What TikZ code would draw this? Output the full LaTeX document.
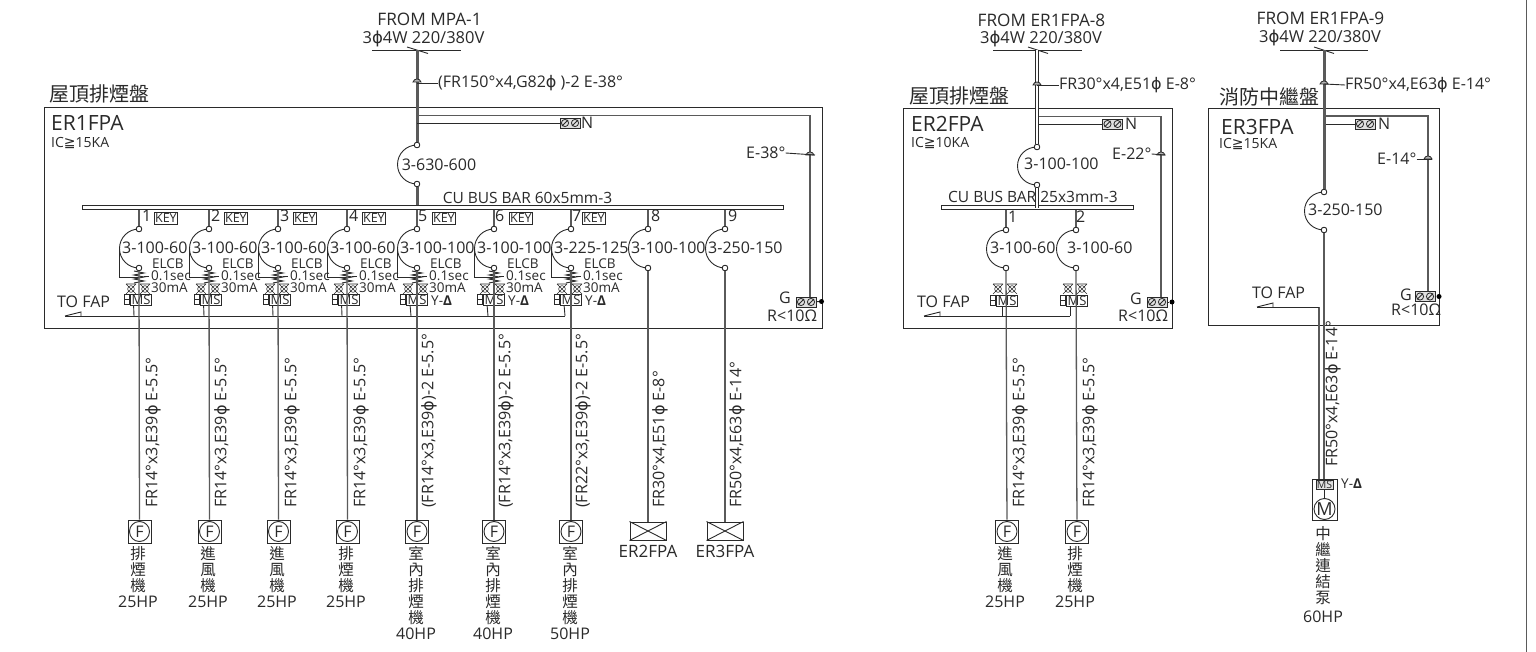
\documentclass[tikz,border=0pt]{standalone}
\usepackage{fontspec}
\usetikzlibrary{calc}
\setmainfont{Open Sans}
\newfontfamily\cjkf{Noto Sans CJK TC}
\newfontfamily\djf{DejaVu Sans}
\newcommand{\ph}{{\djf\char"03D5}}
\newcommand{\gee}{{\djf\char"2267}}
\newcommand{\fs}[1]{\fontsize{#1}{#1}\selectfont}
\definecolor{ink}{HTML}{2A2A2A}
\definecolor{greyline}{HTML}{5A5A5A}
\tikzset{
  wire/.style={draw=ink,line width=0.9pt},
  gwire/.style={draw=greyline,line width=1.3pt},
  fatwire/.style={draw=greyline,line width=3pt},
  dblwire/.style={draw=ink,line width=1.1pt,double=white,double distance=1.5pt},
  panel/.style={draw=ink,line width=1pt,inner sep=0},
  busbar/.style={draw=ink,line width=1pt,fill=white,inner sep=0,minimum height=4pt},
  term/.style={circle,draw=ink,line width=0.8pt,fill=white,inner sep=0,minimum size=5.5pt},
  txt/.style={inner sep=0,anchor=west,text=ink,font=\fs{16}},
  ctxt/.style={inner sep=0,text=ink,font=\fs{16}},
  fromt/.style={inner sep=0,text=ink,font=\fs{17.2}},
  volt/.style={inner sep=0,text=ink,font=\fs{16.5}},
  small/.style={inner sep=0,anchor=west,text=ink,font=\fs{13.5}},
  vlab/.style={inner sep=0,anchor=west,rotate=90,text=ink,font=\fs{16}},
  keybox/.style={draw=ink,line width=0.8pt,inner sep=0,anchor=west,minimum width=23pt,minimum height=11.5pt,text=ink,font=\fs{12.5}},
  msbox/.style={draw=ink,line width=0.8pt,inner sep=0,minimum width=21pt,minimum height=11pt,text=ink,font=\fs{13}},
  olbox/.style={draw=ink,line width=1.5pt,inner sep=0,minimum width=5.5pt,minimum height=10pt},
  fanbox/.style={draw=ink,line width=1pt,inner sep=0,minimum size=23pt},
  fancirc/.style={circle,draw=ink,line width=0.9pt,inner sep=0,minimum size=20pt,text=ink,font=\fs{16}},
  fedbox/.style={draw=ink,line width=1pt,inner sep=0,minimum width=36pt,minimum height=18pt},
  stack/.style={inner sep=0,anchor=north,align=center,text=ink,font=\fs{16},text width=50pt},
  tbox/.style={draw=ink,line width=0.8pt,fill=black!12,inner sep=0,minimum width=20pt,minimum height=10pt},
  dotc/.style={circle,fill=black,inner sep=0,minimum size=5pt},
}
% arc of a circuit breaker between two named terminals (terminals are redrawn above it)
\newcommand{\arcb}[1]{\draw[wire] (#1t.center) .. controls +(-10.8,0) and +(0,-10.8) .. ($(#1t)!0.5!(#1b)+(-19.5,0)$) .. controls +(0,10.8) and +(-10.8,0) .. (#1b.center);
  \node[term] (#1tc) at (#1t) {};\node[term] (#1bc) at (#1b) {};}
% two-screw terminal box
\newcommand{\tblock}[3]{\node[tbox] (#1) at (#2,#3) {};
  \foreach \d in {-5,5}{\draw[ink,line width=0.8pt] (#2+\d,#3) circle (3.6pt) (#2+\d-3,#3+3) -- (#2+\d+3,#3-3);}}
% contactor lamp symbol
\newcommand{\lamp}[2]{\draw[ink,line width=0.55pt] (#1,#2) circle (3.4pt) (#1-5,#2-5) -- (#1+5,#2+5) (#1+5,#2-5) -- (#1-5,#2+5) (#1-5,#2-5) -- (#1+5,#2-5);}
% conduit tick
\newcommand{\tick}[2]{\draw[ink,line width=0.8pt,fill=black!30] (#1-4,#2) .. controls (#1-3,#2-4) and (#1+3,#2-4) .. (#1+4,#2) -- cycle;}
\newcommand{\olb}[3]{\node[olbox] (#1) at (#2,#3) {};\draw[ink,line width=1.2pt] (#2-2.7,#3) -- (#2+2.7,#3);}
\newcommand{\ydelta}{Y-{\bfseries Δ}}
\newcommand{\cjs}{\cjkf\fs{15.5}\baselineskip=16pt }
\newcommand{\hps}{\rmfamily\fs{16}\baselineskip=16pt }
\begin{document}
\begin{tikzpicture}[x=1pt,y=-1pt]
\useasboundingbox (0,0) rectangle (1536,652);
\fill[white] (0,0) rectangle (1536,652);
\draw[greyline,line width=1.6pt] (1526.5,0) -- (1526.5,652);

%================ PANEL 1
\node[panel,minimum width=778pt,minimum height=220pt] (p1) at (433,218) {};
\node[txt,font=\cjkf\fs{20}] (p1t) at (49,94) {屋頂排煙盤};
\node[txt,font=\fs{21}] (p1n) at (51,123) {ER1FPA};
\node[small,font=\fs{14}] (p1ic) at (51,143) {IC\gee15KA};
\node[fromt] (p1f) at (429.5,19) {FROM MPA-1};
\node[volt] (p1v) at (423.5,39) {3\ph4W 220/380V};
\coordinate (p1h1) at (372,50);\coordinate (p1h2) at (461,50);
\draw[wire] (p1h1) -- (p1h2);
\draw[wire] (407,47) -- (428,53.5);
\coordinate (p1top) at (417,50);
\node[term] (mb1t) at (417,145) {};
\node[term] (mb1b) at (417,184) {};
\node[busbar,minimum width=701pt] (bus1) at (432.5,207.7) {};
\draw[fatwire] (p1top) -- (mb1t);
\draw[fatwire] (mb1b) -- (mb1b |- bus1.north);
\arcb{mb1}
\node[ctxt] (mb1l) at (439,165) {3-630-600};
\tick{417}{82}
\node[txt] (p1c) at (438,83) {(FR150°x4,G82\ph\ )-2 E-38°};
\draw[wire] (417,83) -- (p1c.west);
\node[ctxt,font=\fs{15.5}] (bus1l) at (527.5,198) {CU BUS BAR 60x5mm-3};
\node[txt] (n1) at (581,122.5) {N};
\tblock{n1b}{570}{123}
\draw[wire] (417,123) -- (n1b);
\tblock{g1b}{806}{302}
\draw[gwire] (417,115.5) -| (810,297);
\tick{810}{155}
\node[txt] (e1) at (746,153) {E-38°};
\draw[wire] (e1.east) -- (815,155);
\node[txt] (g1) at (779,298) {G};
\node[txt] (r1) at (767,316) {R<10Ω};
\node[dotc] (g1d) at (821.5,301.5) {};
\draw[wire] (g1b) -- (g1d);

\foreach \i/\x/\lab in {1/139/3-100-60,2/209/3-100-60,3/278/3-100-60,4/347/3-100-60,5/417/3-100-100,6/494/3-100-100,7/571/3-225-125,8/648/3-100-100,9/725/3-250-150}{
  \node[term] (b\i t) at (\x,229) {};
  \node[term] (b\i b) at (\x,268) {};
  \draw[gwire] (b\i t |- bus1.south) -- (b\i t);
  \arcb{b\i}
  \node[txt] (bl\i) at (\x-17,247.5) {\lab};
}
\foreach \i/\x/\nx/\kx in {1/139/142/154,2/209/211/224,3/278/280/293,4/347/349/362,5/417/418/432,6/494/495/509,7/571/572/582}{
  \node[txt] (num\i) at (\nx,216) {\i};
  \node[keybox] (key\i) at (\kx,218.5) {KEY};
  % ELCB
  \draw[wire] (\x-19.5,248) -- (\x-19.5,277) -- (\x,277);
  \draw[wire] (\x-5,271) -- (\x+5,273) -- (\x-5,275) -- (\x+5,277) -- (\x-5,279) -- (\x+5,281) -- (\x-5,283);
  \draw[wire] (\x+5,276) -- (\x+10,276);
  \node[small] (el\i) at (\x+13,264) {ELCB};
  \node[small] (es\i) at (\x+12,276) {0.1sec};
  \node[small] (em\i) at (\x+12,288) {30mA};
}
\foreach \i/\x in {1/139,2/209,3/278,4/347}{
  \lamp{\x-8}{289}\lamp{\x+6}{289}
  \node[msbox] (ms\i) at (\x+2,299.5) {MS};
  \olb{ol\i}{\x-12}{299.5}
  \coordinate (ct\i) at (\x-5,316);
  \draw[wire] ($(ms\i.south west)+(3.5,0)$) -- (ct\i);
}
\foreach \i/\x in {5/417,6/494,7/571}{
  \lamp{\x-9}{289}\lamp{\x+6}{289}
  \node[msbox] (ms\i) at (\x,299.5) {MS};
  \olb{ol\i}{\x-14}{299.5}
  \coordinate (ct\i) at (\x-6,316);
  \draw[wire] ($(ms\i.south west)+(4,0)$) -- (ct\i);
  \node[txt,font=\fs{13.5}] (yd\i) at (\x+14,300.5) {\ydelta};
}
\coordinate (fap1) at (65,316);
\draw[wire] (fap1) -- (ct7);
\draw[wire] (fap1) -- ++(16,-4) -- ++(0,4);
\node[txt] (fap1l) at (57,302) {TO FAP};

\foreach \i/\x/\lx/\cj in {
  1/139/153/排\\煙\\機,
  2/209/222/進\\風\\機,
  3/278/292/進\\風\\機,
  4/347/361/排\\煙\\機}{
  \node[fanbox] (fb\i) at (\x+0.5,531.5) {};
  \node[fancirc] (fc\i) at (\x+0.5,531.5) {F};
  \draw[gwire] (b\i b) -- (fb\i);
  \node[vlab] (vl\i) at (\lx,508) {FR14°x3,E39\ph\ E-5.5°};
  \node[stack] (st\i) at (\x-1,546) {\cjs\cj\\\hps 25HP};
}
\foreach \i/\x/\lx/\lab/\hp in {
  5/417/429/14/40HP,
  6/494/506/14/40HP,
  7/571/583/22/50HP}{
  \node[fanbox] (fb\i) at (\x,531.5) {};
  \node[fancirc] (fc\i) at (\x,531.5) {F};
  \draw[gwire] (b\i b) -- (fb\i);
  \node[vlab] (vl\i) at (\lx,508) {(FR\lab°x3,E39\ph)-2 E-5.5°};
  \node[stack] (st\i) at (\x-1,546) {\cjs 室\\內\\排\\煙\\機\\\hps\hp};
}
\foreach \i/\x/\nx/\nm in {8/648/651/ER2FPA,9/725/728/ER3FPA}{
  \node[txt] (num\i) at (\nx,216) {\i};
  \node[fedbox] (fd\i) at (\x,531) {};
  \draw[wire] (fd\i.north west) -- (fd\i.south east) (fd\i.north east) -- (fd\i.south west);
  \draw[gwire] (b\i b) -- (fd\i);
  \node[ctxt,font=\fs{17}] (fn\i) at (\x,551) {\nm};
}
\node[vlab] (vl8) at (660,508) {FR30°x4,E51\ph\ E-8°};
\node[vlab] (vl9) at (737,508) {FR50°x4,E63\ph\ E-14°};

%================ PANEL 2
\node[panel,minimum width=269pt,minimum height=219pt] (p2) at (1037.5,218.5) {};
\node[txt,font=\cjkf\fs{20}] (p2t) at (909,96) {屋頂排煙盤};
\node[txt,font=\fs{21}] (p2n) at (911,124) {ER2FPA};
\node[small,font=\fs{14}] (p2ic) at (911,143) {IC\gee10KA};
\node[fromt] (p2f) at (1041.5,20) {FROM ER1FPA-8};
\node[volt] (p2v) at (1041,39) {3\ph4W 220/380V};
\coordinate (p2h1) at (993,50);\coordinate (p2h2) at (1082,50);
\draw[wire] (p2h1) -- (p2h2);
\draw[wire] (1028,47) -- (1048,53.5);
\coordinate (p2top) at (1037,50);
\node[term] (mb2t) at (1037,147) {};
\node[term] (mb2b) at (1037,185) {};
\node[busbar,minimum width=192pt] (bus2) at (1037,208) {};
\draw[dblwire] (p2top) -- (mb2t);
\arcb{mb2}
\node[txt] (mb2l) at (1024,164) {3-100-100};
\tick{1037}{85}
\node[txt] (p2c) at (1059,85) {FR30°x4,E51\ph\ E-8°};
\draw[wire] (1037,85) -- (p2c.west);
\node[txt,font=\fs{15.5}] (bus2l) at (948,197) {CU BUS BAR 25x3mm-3};
\draw[dblwire] (mb2b) -- (mb2b |- bus2.center);
\node[txt] (n2) at (1125,124) {N};
\tblock{n2b}{1112.5}{124}
\draw[wire] (1039,124) -- (n2b);
\tblock{g2b}{1157}{302}
\draw[gwire] (1039,116.5) -| (1161,297);
\tick{1161}{155}
\node[txt] (e2) at (1112,154) {E-22°};
\draw[wire] (e2.east) -- (1165,155);
\node[txt] (g2) at (1130,299) {G};
\node[txt] (r2) at (1118,316) {R<10Ω};
\node[dotc] (g2d) at (1172,302) {};
\draw[wire] (g2b) -- (g2d);
\foreach \i/\x/\bx/\lx/\cx/\cj in {a/1006/1007/990/1002/進\\風\\機,b/1076/1077/1067/1070/排\\煙\\機}{
  \node[term] (b\i t) at (\x,230) {};
  \node[term] (b\i b) at (\x,268) {};
  \draw[gwire] (b\i t |- bus2.south) -- (b\i t);
  \arcb{b\i}
  \node[txt] (bl\i) at (\lx,248) {3-100-60};
  \lamp{\x-8}{289}\lamp{\x+6}{289}
  \node[msbox] (ms\i) at (\bx,300.5) {MS};
  \olb{ol\i}{\bx-14}{300.5}
  \coordinate (ct\i) at (\cx,316);
  \draw[wire] (\cx,306) -- (ct\i);
  \node[fanbox] (fb\i) at (\x+1,531.5) {};
  \node[fancirc] (fc\i) at (\x+1,531.5) {F};
  \draw[gwire] (b\i b) -- (fb\i);
  \node[vlab] (vl\i) at (\x+14,508) {FR14°x3,E39\ph\ E-5.5°};
  \node[stack] (st\i) at (\x-1,546) {\cjs\cj\\\hps 25HP};
}
\node[txt] (numa) at (1008,217) {1};
\node[txt] (numb) at (1076,217) {2};
\coordinate (fap2) at (924,316);
\draw[wire] (fap2) -- (ctb);
\draw[wire] (fap2) -- ++(16,-4) -- ++(0,4);
\node[txt] (fap2l) at (917,302) {TO FAP};

%================ PANEL 3
\node[panel,minimum width=231pt,minimum height=216pt] (p3) at (1323.5,217) {};
\node[txt,font=\cjkf\fs{20}] (p3t) at (1219,97) {消防中繼盤};
\node[txt,font=\fs{21}] (p3n) at (1221,127) {ER3FPA};
\node[small,font=\fs{14}] (p3ic) at (1219,144) {IC\gee15KA};
\node[fromt] (p3f) at (1320.5,18) {FROM ER1FPA-9};
\node[volt] (p3v) at (1320,38) {3\ph4W 220/380V};
\coordinate (p3h1) at (1280,50);\coordinate (p3h2) at (1368,50);
\draw[wire] (p3h1) -- (p3h2);
\draw[wire] (1314,47) -- (1334,53.5);
\coordinate (p3top) at (1324,50);
\node[term] (mb3t) at (1324,192) {};
\node[term] (mb3b) at (1324,230) {};
\draw[fatwire] (p3top) -- (mb3t);
\arcb{mb3}
\node[txt] (mb3l) at (1308,209.5) {3-250-150};
\tick{1324}{84}
\node[txt] (p3c) at (1345,85) {FR50°x4,E63\ph\ E-14°};
\draw[wire] (1324,84) -- (p3c.west);
\node[txt] (n3) at (1378,124) {N};
\tblock{n3b}{1365}{124}
\draw[wire] (1326,124) -- (n3b);
\tblock{g3b}{1425}{296.5}
\draw[gwire] (1326,116) -| (1428,291);
\tick{1428}{159}
\node[txt] (e3) at (1377,159) {E-14°};
\draw[wire] (e3.east) -- (1432,159);
\node[txt] (g3) at (1400,295) {G};
\node[txt] (r3) at (1391,310) {R<10Ω};
\node[dotc] (g3d) at (1439,296.5) {};
\draw[wire] (g3b) -- (g3d);
\node[draw=ink,line width=1pt,inner sep=0,minimum width=25pt,minimum height=41pt] (mbx) at (1324.5,499.5) {};
\node[draw=ink,line width=0.8pt,inner sep=0,minimum width=17pt,minimum height=9pt,fill=black!12,text=ink,font=\fs{10.5}] (ms3) at (1324.5,484.5) {MS};
\node[circle,draw=ink,line width=0.9pt,inner sep=0,minimum size=21pt,text=ink,font=\fs{18}] (mot) at (1324.5,509) {M};
\draw[wire] (ms3) -- (mot);
\draw[gwire] (mb3b) -- (mb3b |- mbx.north);
\coordinate (ct3) at (1319,307);
\draw[gwire] (ct3) -- (ct3 |- mbx.north);
\coordinate (fap3) at (1257,307);
\draw[wire] (fap3) -- (ct3);
\draw[wire] (fap3) -- ++(16,-4) -- ++(0,4);
\node[txt] (fap3l) at (1252,293) {TO FAP};
\node[vlab] (vl3) at (1333,467) {FR50°x4,E63\ph\ E-14°};
\node[txt,font=\fs{13.5}] (yd3) at (1341,483.5) {\ydelta};
\node[stack] (st3) at (1323,526) {\cjs 中\\繼\\連\\結\\泵\\[3pt]\hps 60HP};
\end{tikzpicture}
\end{document}
